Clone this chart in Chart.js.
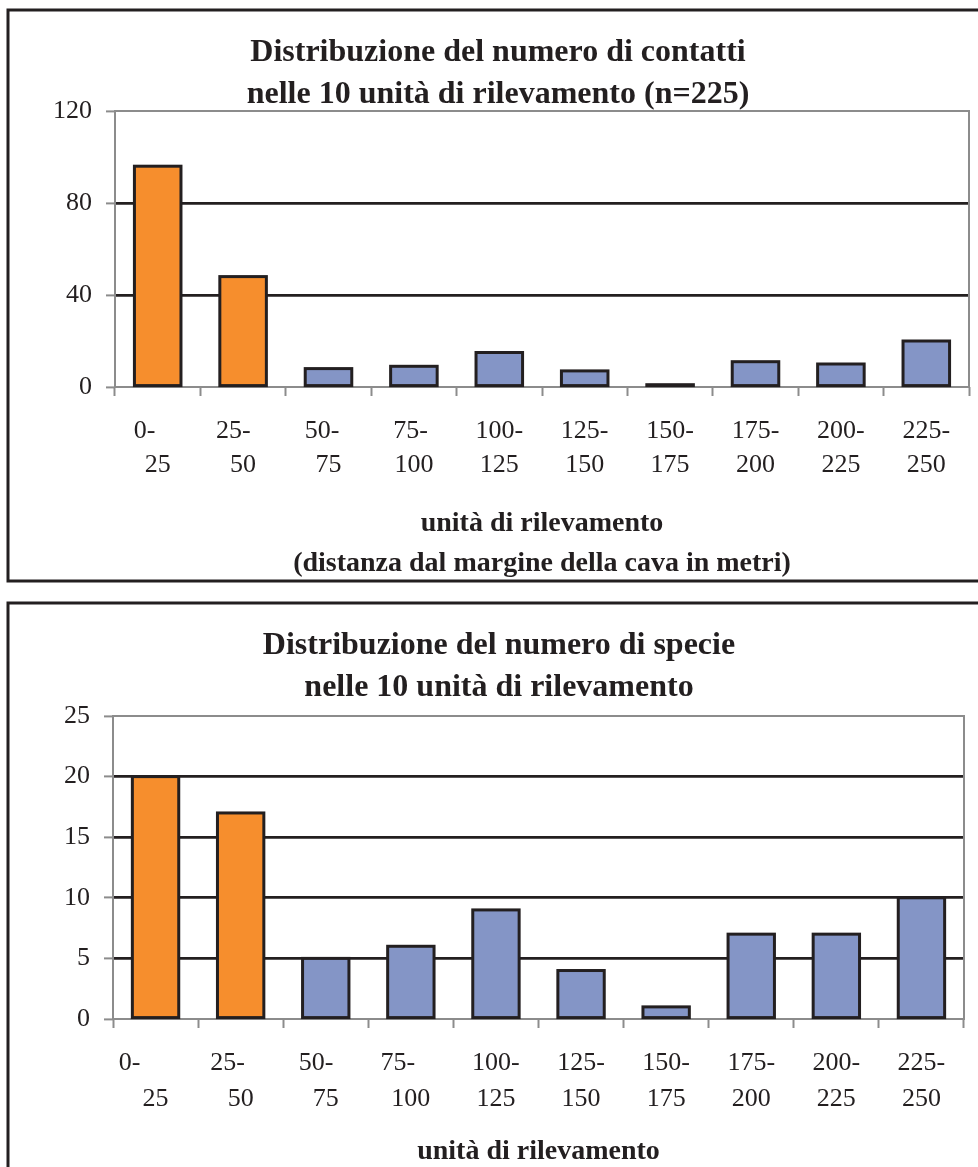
<!DOCTYPE html>
<html>
<head>
<meta charset="utf-8">
<script src="https://cdn.jsdelivr.net/npm/chart.js@4/dist/chart.umd.min.js"></script>
<style>
  html, body { margin: 0; padding: 0; background: #fff; overflow: hidden; width: 978px; height: 1167px; }
  .panel { position: absolute; left: 0; }
  #wrap1 { top: 0; }
  #wrap2 { top: 595px; }
  canvas { display: block; }
</style>
</head>
<body>
<div class="panel" id="wrap1"><canvas id="c1" width="978" height="590"></canvas></div>
<div class="panel" id="wrap2"><canvas id="c2" width="978" height="600"></canvas></div>
<script>
// Distance bands from the quarry edge (metres), two text lines per band
const categories = [
  ['0-', '25'], ['25-', '50'], ['50-', '75'], ['75-', '100'], ['100-', '125'],
  ['125-', '150'], ['150-', '175'], ['175-', '200'], ['200-', '225'], ['225-', '250']
];
// Number of contacts per survey unit (n = 225)
const contatti = [96, 48, 8, 9, 15, 7, 1, 11, 10, 20];
// Number of species per survey unit
const specie = [20, 17, 5, 6, 9, 4, 1, 7, 7, 10];
// Value-axis tick labels
const contattiTicks = [0, 40, 80, 120];
const specieTicks = [0, 5, 10, 15, 20, 25];

const title1 = ['Distribuzione del numero di contatti', 'nelle 10 unità di rilevamento (n=225)'];
const title2 = ['Distribuzione del numero di specie', 'nelle 10 unità di rilevamento'];
const axisTitle1 = ['unità di rilevamento', '(distanza dal margine della cava in metri)'];
const axisTitle2 = ['unità di rilevamento'];

const FONT = "'Liberation Serif', 'Times New Roman', serif";
const INK = '#231f20';
const GREY = '#8c8c8c';
const ORANGE = '#f68e2d';
const BLUE = '#8495c6';
const NEAR_BANDS = 2; // first bands nearest the quarry are highlighted
const NBSP = '\u00a0';

// Outer frame of each panel
const panelFrame = {
  id: 'panelFrame',
  beforeDraw(chart, args, o) {
    const c = chart.ctx;
    c.save();
    c.fillStyle = '#fff';
    c.fillRect(0, 0, chart.width, chart.height);
    c.strokeStyle = INK;
    c.lineWidth = 3;
    c.strokeRect(o.x, o.y, o.w, o.h);
    c.restore();
  }
};
// Grey frame around the plotting area
const plotFrame = {
  id: 'plotFrame',
  beforeDatasetsDraw(chart) {
    const a = chart.chartArea, c = chart.ctx;
    c.save();
    c.strokeStyle = GREY;
    c.lineWidth = 2;
    c.strokeRect(a.left, a.top, a.right - a.left, a.bottom - a.top);
    c.restore();
  }
};
// Dark outline centred on each bar's edge
const barOutline = {
  id: 'barOutline',
  afterDatasetsDraw(chart) {
    const c = chart.ctx;
    c.save();
    c.strokeStyle = INK;
    c.lineWidth = 3;
    c.lineJoin = 'miter';
    chart.getDatasetMeta(0).data.forEach(bar => {
      const p = bar.getProps(['x', 'y', 'base', 'width'], true);
      c.strokeRect(p.x - p.width / 2, p.y, p.width, p.base - p.y);
    });
    c.restore();
  }
};

function makeChart(id, values, ticks, title, axisTitle, L) {
  const top = ticks[ticks.length - 1];
  return new Chart(document.getElementById(id), {
    type: 'bar',
    data: {
      labels: categories,
      datasets: [{
        data: values,
        backgroundColor: ctx => ctx.dataIndex < NEAR_BANDS ? ORANGE : BLUE,
        borderWidth: 0,
        barPercentage: 0.545,
        categoryPercentage: 1
      }]
    },
    options: {
      responsive: false,
      animation: false,
      devicePixelRatio: 1,
      layout: { padding: L.pad },
      plugins: {
        legend: { display: false },
        tooltip: { enabled: false },
        panelFrame: L.frame,
        title: {
          display: true,
          text: title,
          color: INK,
          font: { family: FONT, size: 32, weight: 'bold', lineHeight: 42 / 32 },
          padding: L.titlePad
        }
      },
      scales: {
        x: {
          afterFit: s => { s.height = L.xHeight; },
          grid: { offset: true, drawOnChartArea: false, drawTicks: true, tickLength: 9, tickColor: GREY, tickWidth: 2 },
          border: { display: false },
          ticks: {
            color: INK, autoSkip: false, maxRotation: 0, minRotation: 0,
            padding: L.tickPad,
            font: { family: FONT, size: 26, lineHeight: L.tickLH / 26 },
            // wrapped band label; first line carries its trailing blanks
            callback: (v, i) => [categories[i][0] + NBSP.repeat(L.trail[i]), categories[i][1]]
          },
          title: {
            display: true, text: axisTitle, color: INK,
            font: { family: FONT, size: 28, weight: 'bold', lineHeight: 40 / 28 },
            padding: { top: 0, bottom: 0 }
          }
        },
        y: {
          min: 0, max: top,
          afterFit: s => { s.width = L.yWidth; },
          afterBuildTicks: s => { s.ticks = ticks.map(v => ({ value: v })); },
          grid: {
            color: ctx => (ctx.tick && ctx.tick.value > 0 && ctx.tick.value < top) ? INK : 'rgba(0,0,0,0)',
            lineWidth: 2.8,
            tickColor: GREY, tickWidth: 2, tickLength: 9
          },
          border: { display: false },
          ticks: { color: INK, padding: 14, font: { family: FONT, size: 26 } }
        }
      }
    },
    plugins: [panelFrame, plotFrame, barOutline]
  });
}

makeChart('c1', contatti, contattiTicks, title1, axisTitle1, {
  pad: { left: 27, right: 9, top: 10, bottom: 6 },
  titlePad: { top: 22, bottom: -5 },
  xHeight: 197, yWidth: 88, tickPad: 18, tickLH: 34,
  trail: [4, 3, 2, 1, 0, 0, 0, 0, 0, 0],
  frame: { x: 8, y: 10, w: 1000, h: 571 }
});
makeChart('c2', specie, specieTicks, title2, axisTitle2, {
  pad: { left: 34, right: 14, top: 10, bottom: 23 },
  titlePad: { top: 20, bottom: 7 },
  xHeight: 153, yWidth: 79, tickPad: 17, tickLH: 36,
  trail: [8, 4, 3, 4, 0, 0, 0, 0, 0, 0],
  frame: { x: 8, y: 8, w: 1000, h: 700 }
});
</script>
</body>
</html>
